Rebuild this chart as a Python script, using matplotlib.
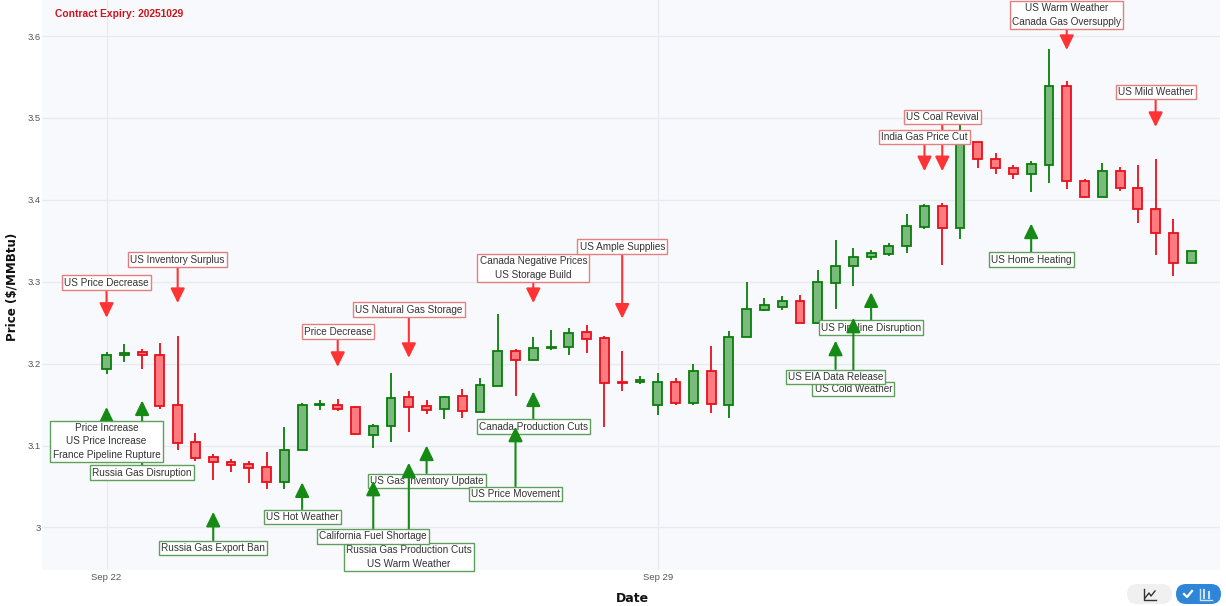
import numpy as np
from matplotlib import pyplot as plt
from matplotlib.patches import FancyBboxPatch

#OHLC for each session
opens = [3.194, 3.210, 3.214, 3.211, 3.149, 3.104, 3.086, 3.080, 3.077, 3.074,
         3.056, 3.094, 3.149, 3.150, 3.147, 3.113, 3.124, 3.159, 3.148, 3.144,
         3.160, 3.141, 3.173, 3.215, 3.205, 3.219, 3.220, 3.239, 3.231, 3.177,
         3.177, 3.150, 3.177, 3.152, 3.191, 3.150, 3.232, 3.265, 3.269, 3.277,
         3.250, 3.299, 3.319, 3.330, 3.334, 3.344, 3.367, 3.393, 3.366, 3.470,
         3.450, 3.439, 3.432, 3.443, 3.539, 3.423, 3.404, 3.435, 3.415, 3.389,
         3.360, 3.323]
highs = [3.214, 3.224, 3.218, 3.225, 3.234, 3.115, 3.090, 3.083, 3.081, 3.092,
         3.123, 3.152, 3.155, 3.157, 3.148, 3.126, 3.189, 3.166, 3.155, 3.161,
         3.169, 3.182, 3.260, 3.218, 3.233, 3.241, 3.244, 3.247, 3.234, 3.215,
         3.185, 3.189, 3.182, 3.200, 3.221, 3.240, 3.300, 3.280, 3.282, 3.284,
         3.314, 3.351, 3.341, 3.339, 3.347, 3.383, 3.395, 3.396, 3.492, 3.470,
         3.457, 3.443, 3.448, 3.584, 3.545, 3.426, 3.445, 3.440, 3.443, 3.450,
         3.376, 3.337]
lows = [3.187, 3.202, 3.194, 3.145, 3.094, 3.081, 3.058, 3.068, 3.054, 3.047,
        3.047, 3.094, 3.143, 3.142, 3.113, 3.097, 3.104, 3.117, 3.138, 3.132,
        3.134, 3.141, 3.173, 3.161, 3.205, 3.217, 3.210, 3.213, 3.123, 3.166,
        3.175, 3.137, 3.150, 3.150, 3.140, 3.133, 3.232, 3.264, 3.265, 3.249,
        3.248, 3.267, 3.295, 3.326, 3.331, 3.335, 3.364, 3.321, 3.352, 3.439,
        3.432, 3.425, 3.409, 3.420, 3.413, 3.402, 3.404, 3.411, 3.372, 3.333,
        3.307, 3.323]
closes = [3.211, 3.213, 3.211, 3.148, 3.103, 3.085, 3.080, 3.076, 3.073, 3.056,
          3.095, 3.149, 3.151, 3.145, 3.114, 3.124, 3.158, 3.147, 3.143, 3.159,
          3.142, 3.174, 3.215, 3.205, 3.219, 3.220, 3.238, 3.230, 3.176, 3.176,
          3.180, 3.177, 3.152, 3.191, 3.151, 3.233, 3.267, 3.271, 3.277, 3.250,
          3.300, 3.319, 3.330, 3.335, 3.344, 3.368, 3.393, 3.366, 3.469, 3.450,
          3.439, 3.432, 3.444, 3.539, 3.423, 3.404, 3.435, 3.415, 3.389, 3.360,
          3.323, 3.337]

ytick_values = [3.0, 3.1, 3.2, 3.3, 3.4, 3.5, 3.6]
ytick_labels = ['3', '3.1', '3.2', '3.3', '3.4', '3.5', '3.6']
xtick_values = [0, 31]
xtick_labels = ['Sep 22', 'Sep 29']

#Down arrows: text, candle, arrow tip price, label price
bear_text = ['US Price Decrease', 'US Inventory Surplus', 'Price Decrease', 'US Natural Gas Storage',
             'Canada Negative Prices\nUS Storage Build', 'US Ample Supplies', 'US Coal Revival',
             'India Gas Price Cut', 'US Warm Weather\nCanada Gas Oversupply', 'US Mild Weather']
bear_index = [0, 4, 13, 17, 24, 29, 47, 46, 54, 59]
bear_tip = [3.256, 3.274, 3.196, 3.207, 3.274, 3.255, 3.435, 3.435, 3.583, 3.489]
bear_label = [3.299, 3.327, 3.239, 3.266, 3.317, 3.343, 3.501, 3.477, 3.626, 3.532]

#Up arrows, in the order they stack
bull_text = ['Russia Gas Disruption', 'Price Increase\nUS Price Increase\nFrance Pipeline Rupture',
             'Russia Gas Export Ban', 'US Hot Weather', 'US Gas Inventory Update',
             'Russia Gas Production Cuts\nUS Warm Weather', 'California Fuel Shortage',
             'Canada Production Cuts', 'US Price Movement', 'US Pipeline Disruption',
             'US Cold Weather', 'US EIA Data Release', 'US Home Heating']
bull_index = [2, 0, 6, 11, 18, 17, 15, 24, 23, 43, 42, 41, 52]
bull_tip = [3.155, 3.147, 3.019, 3.055, 3.100, 3.079, 3.057, 3.166, 3.123, 3.287, 3.256, 3.228, 3.371]
bull_label = [3.067, 3.105, 2.975, 3.013, 3.057, 2.964, 2.989, 3.123, 3.041, 3.244, 3.169, 3.184, 3.327]

green_line = '#0a7d0a'
green_fill = '#7aba7d'
red_line = '#e8101a'
red_fill = '#ff7b7f'

plt.rcParams['font.family'] = ['Liberation Sans', 'DejaVu Sans']

fig = plt.figure(figsize=(12.26, 6.06), dpi=100)
ax = fig.add_axes([42/1226, 36/606, (1220-42)/1226, 570/606])
ax.set_facecolor('#f8f9fc')
ax.set_xlim(-3.63, 62.62)
ax.set_ylim(2.948, 3.644)

x = np.arange(len(opens))
o = np.array(opens)
c = np.array(closes)
up = c >= o
ax.vlines(x[up], np.array(lows)[up], np.array(highs)[up], color=green_line, lw=1.3, zorder=2)
ax.vlines(x[~up], np.array(lows)[~up], np.array(highs)[~up], color=red_line, lw=1.3, zorder=2)
ax.bar(x[up], (c-o)[up], bottom=o[up], width=0.5, facecolor=green_fill, edgecolor=green_line, lw=1.3, zorder=3)
ax.bar(x[~up], (c-o)[~up], bottom=o[~up], width=0.5, facecolor=red_fill, edgecolor=red_line, lw=1.3, zorder=3)

ax.set_yticks(ytick_values, ytick_labels)
ax.set_xticks(xtick_values, xtick_labels)
ax.grid(True, color='#e8eaef', lw=1)
ax.set_axisbelow(True)
ax.tick_params(length=0, labelsize=6.8, labelcolor='#555555')
ax.tick_params(axis='y', pad=1)
ax.tick_params(axis='x', pad=2.5)
for s in ax.spines.values():
    s.set_visible(False)

def note(text, idx, tip, label, line, edge):
    ax.annotate(text, xy=(idx, tip), xytext=(idx, label), ha='center', va='center',
                fontsize=7.2, color='#333333', linespacing=1.45, zorder=5,
                bbox=dict(boxstyle='square,pad=0.22', fc='white', ec=edge, lw=1),
                arrowprops=dict(arrowstyle='-|>,head_length=0.88,head_width=0.43', mutation_scale=10,
                                color=line, lw=1.5, shrinkA=0, shrinkB=0))

for t, i, a, b in zip(bear_text, bear_index, bear_tip, bear_label):
    note(t, i, a, b, '#ff3333', '#e57f7f')
for t, i, a, b in zip(bull_text, bull_index, bull_tip, bull_label):
    note(t, i, a, b, '#158a15', '#5d9f5d')

ui = fig.add_axes([0, 0, 1, 1], zorder=10)
ui.set_xlim(0, 1226)
ui.set_ylim(606, 0)
ui.axis('off')

ui.text(55, 14, 'Contract Expiry: 20251029', color='#d0121b', fontsize=7.4, fontweight='bold', va='center')
ui.text(12, 287, 'Price ($/MMBtu)', rotation=90, fontsize=8.6, fontweight='bold', color='#111111',
        ha='center', va='center', family='DejaVu Sans')
ui.text(632, 598, 'Date', fontsize=9, fontweight='bold', color='#111111', ha='center', va='center',
        family='DejaVu Sans')

#Toggle buttons, bottom right
ui.add_patch(FancyBboxPatch((1127, 584), 45, 20, boxstyle='round,pad=0,rounding_size=10',
                            fc='#f0f0f0', ec='none'))
ui.add_patch(FancyBboxPatch((1176, 584), 45, 20, boxstyle='round,pad=0,rounding_size=10',
                            fc='#2f86d9', ec='none'))
ui.plot([1144, 1144, 1156], [589, 600, 600], color='#333333', lw=1)
ui.plot([1145, 1149, 1151, 1155], [598, 593, 596, 591], color='#333333', lw=1)
ui.plot([1184, 1187, 1192], [594, 597, 591], color='white', lw=1.6)
ui.plot([1200, 1200, 1212], [589, 600, 600], color='#cfe3f7', lw=1)
ui.plot([1204, 1204], [590, 598], color='#cfe3f7', lw=1.5)
ui.plot([1209, 1209], [592, 598], color='#cfe3f7', lw=1.5)

fig.savefig('out.png', dpi=100)
